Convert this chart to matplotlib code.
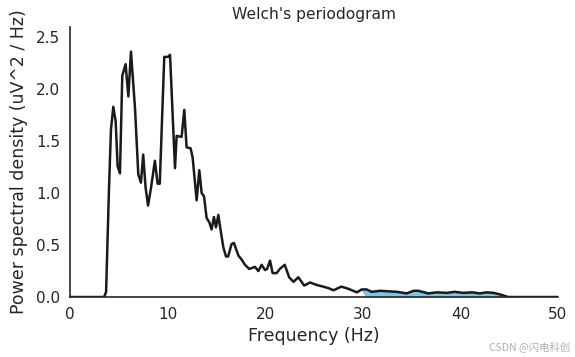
import matplotlib
matplotlib.use("Agg")
import matplotlib.pyplot as plt
import numpy as np

# Frequencies (Hz) and PSD values (uV^2/Hz)
freqs = [0.0, 3.5, 3.7, 4.0, 4.2, 4.44, 4.68, 4.88, 5.12, 5.36, 5.7, 5.98, 6.25,
         6.66, 7.0, 7.27, 7.5, 7.75, 8.0, 8.3, 8.7, 8.98, 9.2, 9.66, 10.07, 10.25,
         10.76, 10.93, 11.44, 11.71, 11.95, 12.36, 12.57, 12.98, 13.25, 13.49,
         13.73, 14.0, 14.27, 14.51, 14.75, 14.96, 15.2, 15.44, 15.71, 15.98, 16.2,
         16.56, 16.8, 17.25, 17.59, 17.93, 18.37, 18.95, 19.3, 19.64, 19.98, 20.2,
         20.5, 20.76, 21.17, 21.5, 22.0, 22.46, 22.9, 23.4, 24.0, 24.6, 25.3, 25.95,
         26.5, 27.0, 27.8, 28.5, 29.4, 29.9, 30.4, 30.9, 31.8, 32.6, 33.5, 34.5,
         35.2, 35.7, 36.7, 37.6, 38.6, 39.4, 40.3, 41.2, 42.0, 42.7, 43.4, 44.06,
         44.9, 45.5, 50.0]
psd = [0.0, 0.0, 0.05, 1.05, 1.61, 1.83, 1.69, 1.26, 1.19, 2.13, 2.24, 1.93, 2.36,
       1.82, 1.18, 1.10, 1.37, 1.05, 0.88, 1.05, 1.31, 1.09, 1.09, 2.31, 2.31, 2.33,
       1.24, 1.55, 1.54, 1.80, 1.44, 1.43, 1.34, 0.93, 1.22, 1.00,
       0.97, 0.76, 0.72, 0.65, 0.77, 0.67, 0.79, 0.64, 0.48, 0.39, 0.39,
       0.51, 0.52, 0.40, 0.36, 0.31, 0.27, 0.29, 0.25, 0.31, 0.26, 0.27,
       0.35, 0.23, 0.23, 0.27, 0.31, 0.19, 0.146, 0.19, 0.11, 0.14, 0.115, 0.10,
       0.085, 0.065, 0.10, 0.08, 0.045, 0.073, 0.073, 0.05, 0.06, 0.055, 0.05, 0.035,
       0.06, 0.06, 0.035, 0.045, 0.04, 0.05, 0.04, 0.045, 0.035, 0.045, 0.04, 0.025,
       0.0, 0.0, 0.0]

band_low, band_high = 30.0, 45.0
xticks = [0, 10, 20, 30, 40, 50]
yticks = [0.0, 0.5, 1.0, 1.5, 2.0, 2.5]

freqs_a = np.array(freqs)
psd_a = np.array(psd)

plt.rcParams['font.family'] = ['DejaVu Sans']
fig = plt.figure(figsize=(5.75, 3.57), dpi=100)
ax = fig.add_axes([0.1217, 0.168, 0.8487, 0.756])

ax.plot(freqs_a, psd_a, color='#1a1a1a', lw=1.8)
mask = (freqs_a >= band_low) & (freqs_a <= band_high)
ax.fill_between(freqs_a, psd_a, where=mask, color='#7cc5e8', interpolate=True)

ax.set_xlim(0, max(freqs))
ax.set_ylim(0, max(psd) * 1.1)
ax.set_xticks(xticks)
ax.set_yticks(yticks)
ax.set_xticklabels([str(t) for t in xticks])
ax.set_yticklabels([f"{t:.1f}" for t in yticks])
ax.tick_params(axis='both', length=0, labelsize=11, colors='#262626', pad=7)

ax.set_xlabel('Frequency (Hz)', fontsize=12.5, color='#262626', labelpad=4)
ax.set_ylabel('Power spectral density (uV^2 / Hz)', fontsize=12.5, color='#262626', labelpad=6)
ax.set_title("Welch's periodogram", fontsize=11.2, color='#262626', pad=6)

for s in ['top', 'right']:
    ax.spines[s].set_visible(False)
for s in ['left', 'bottom']:
    ax.spines[s].set_color('#262626')
    ax.spines[s].set_linewidth(1.2)

fig.text(0.992, 0.012, 'CSDN @闪电科创', ha='right', va='bottom', fontsize=7.5,
         color='#b0b0b0', family=['Noto Sans CJK SC', 'DejaVu Sans'])

fig.savefig('out.png', dpi=100)
